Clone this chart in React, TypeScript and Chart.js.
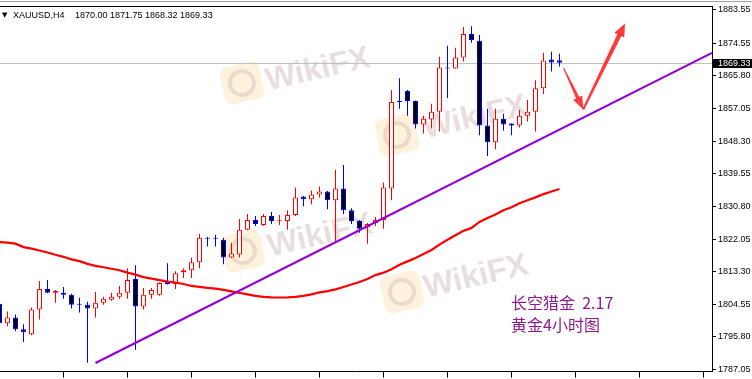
import { useEffect, useRef } from 'react';
import { Chart, registerables } from 'chart.js';

Chart.register(...registerables);

const symbolLabel = 'XAUUSD,H4';
const lastQuote = ['1870.00', '1871.75', '1868.32', '1869.33'];

const opens = [
  1804.73, 1799.45, 1801.03, 1797.87, 1796.55, 1803.14, 1808.69, 1807.63, 1807.63, 1807.10,
  1804.50, 1804.46, 1803.41, 1804.99, 1805.78, 1806.58, 1807.63, 1811.32, 1803.94, 1807.10,
  1807.10, 1810.53, 1810.00, 1813.17, 1813.70, 1815.81, 1822.18, 1822.18, 1821.88, 1817.13,
  1817.92, 1824.52, 1827.16, 1825.84, 1828.21, 1826.85, 1826.89, 1828.47, 1833.49, 1832.69,
  1834.02, 1834.81, 1832.43, 1835.60, 1829.79, 1826.89, 1825.31, 1826.36, 1827.16, 1835.60,
  1858.86, 1861.72, 1859.08, 1852.75, 1854.07, 1856.18, 1867.83, 1867.79, 1870.69, 1877.02,
  1875.18, 1852.48, 1848.00, 1854.33, 1853.01, 1852.48, 1855.12, 1856.18, 1862.51, 1870.16,
  1870.00,
];
const highs = [
  1806.31, 1802.62, 1801.83, 1799.19, 1803.67, 1810.80, 1811.06, 1808.42, 1809.21, 1807.37,
  1806.31, 1805.26, 1807.89, 1806.58, 1807.63, 1809.48, 1814.23, 1815.02, 1808.95, 1808.95,
  1810.40, 1815.55, 1813.44, 1814.23, 1817.13, 1823.46, 1822.67, 1823.20, 1822.41, 1821.09,
  1827.42, 1828.74, 1828.21, 1828.74, 1829.27, 1828.47, 1829.79, 1835.86, 1833.60, 1835.07,
  1836.12, 1834.90, 1840.61, 1841.93, 1830.32, 1827.16, 1826.36, 1827.95, 1837.18, 1861.98,
  1865.15, 1861.98, 1859.20, 1855.12, 1858.29, 1870.95, 1873.86, 1873.33, 1878.87, 1879.13,
  1876.76, 1856.97, 1856.97, 1855.65, 1853.10, 1856.71, 1859.34, 1864.62, 1872.01, 1872.27,
  1871.75,
];
const lows = [
  1798.92, 1798.66, 1797.34, 1794.44, 1796.28, 1800.51, 1807.50, 1804.99, 1806.05, 1803.41,
  1802.35, 1788.90, 1801.03, 1804.46, 1805.52, 1806.05, 1806.05, 1792.33, 1803.14, 1806.05,
  1806.84, 1809.90, 1808.69, 1811.59, 1811.59, 1814.23, 1820.03, 1820.03, 1815.28, 1817.00,
  1817.13, 1824.40, 1825.57, 1825.57, 1826.10, 1825.84, 1824.52, 1828.21, 1830.85, 1831.38,
  1833.22, 1830.06, 1821.35, 1828.74, 1826.10, 1823.73, 1820.82, 1825.57, 1824.78, 1832.43,
  1856.97, 1855.12, 1851.69, 1850.37, 1851.69, 1850.90, 1859.87, 1867.70, 1869.64, 1874.65,
  1849.85, 1844.31, 1846.15, 1851.17, 1849.85, 1851.96, 1853.54, 1850.90, 1860.93, 1867.00,
  1868.32,
];
const closes = [
  1799.45, 1801.03, 1797.87, 1797.08, 1803.14, 1808.69, 1807.63, 1808.16, 1807.10, 1804.46,
  1804.42, 1803.41, 1804.99, 1806.05, 1806.58, 1807.63, 1811.06, 1803.94, 1807.10, 1808.42,
  1810.27, 1810.00, 1812.91, 1813.70, 1815.81, 1822.41, 1822.10, 1822.10, 1817.13, 1818.18,
  1824.52, 1827.16, 1826.10, 1828.21, 1826.89, 1826.93, 1828.47, 1833.22, 1832.69, 1834.02,
  1834.81, 1832.43, 1835.60, 1829.79, 1826.89, 1824.78, 1826.10, 1827.16, 1835.86, 1858.82,
  1858.78, 1859.08, 1852.75, 1854.33, 1856.18, 1868.05, 1867.75, 1870.69, 1877.02, 1875.44,
  1852.48, 1848.00, 1854.33, 1852.75, 1852.48, 1855.12, 1856.18, 1862.51, 1869.90, 1869.37,
  1869.33,
];
const maValues = [
  1821.22, 1821.09, 1820.82, 1819.90, 1819.50, 1818.98, 1818.45, 1817.84, 1817.29, 1816.60,
  1816.13, 1815.41, 1814.86, 1814.49, 1814.09, 1813.70, 1813.04, 1812.51, 1811.85, 1811.46,
  1811.06, 1810.66, 1810.40, 1810.00, 1809.48, 1809.21, 1808.95, 1808.74, 1808.42, 1808.03,
  1807.63, 1807.23, 1806.84, 1806.57, 1806.44, 1806.39, 1806.44, 1806.57, 1806.84, 1807.23,
  1807.76, 1808.08, 1808.55, 1809.21, 1809.87, 1810.53, 1811.32, 1812.38, 1813.04, 1813.96,
  1815.15, 1816.07, 1817.00, 1818.05, 1819.11, 1820.56, 1821.88, 1823.07, 1824.25, 1825.04,
  1826.63, 1827.68, 1828.61, 1829.79, 1830.59, 1831.64, 1832.43, 1833.22, 1834.10, 1834.81,
  1835.47,
];

const yTickValues = [1883.55, 1874.55, 1865.8, 1857.05, 1848.3, 1839.55, 1830.8, 1822.05, 1813.3, 1804.55, 1795.8, 1787.05];
const yTickLabels = ['1883.55', '1874.55', '1865.80', '1857.05', '1848.30', '1839.55', '1830.80', '1822.05', '1813.30', '1804.55', '1795.80', '1787.05'];
const xTickValues = [8, 16, 24, 32, 40, 48, 56, 64, 72, 80, 88];

const trendLine = [
  { x: 12, y: 1788.82 },
  { x: 89.06, y: 1871.96 },
];
const arrowDown = [
  { x: 70.5, y: 1867.97 },
  { x: 72.97, y: 1856.79 },
];
const arrowUp = [
  { x: 72.97, y: 1856.79 },
  { x: 78.19, y: 1879.85 },
];
const noteLines = ['长空猎金  2.17', '黄金4小时图'];
const watermarkText = 'WikiFX';

const AXIS_FONT = '"Liberation Sans", Arial, sans-serif';

function drawArrow(ctx: CanvasRenderingContext2D, x1: number, y1: number, x2: number, y2: number, w0: number, w1: number, headLen: number, headW: number) {
  const dx = x2 - x1;
  const dy = y2 - y1;
  const len = Math.hypot(dx, dy);
  const ux = dx / len;
  const uy = dy / len;
  const nx = -uy;
  const ny = ux;
  const bx = x2 - ux * headLen;
  const by = y2 - uy * headLen;
  ctx.beginPath();
  ctx.moveTo(x1 + nx * w0 / 2, y1 + ny * w0 / 2);
  ctx.lineTo(bx + nx * w1 / 2, by + ny * w1 / 2);
  ctx.lineTo(bx + nx * headW / 2, by + ny * headW / 2);
  ctx.lineTo(x2, y2);
  ctx.lineTo(bx - nx * headW / 2, by - ny * headW / 2);
  ctx.lineTo(bx - nx * w1 / 2, by - ny * w1 / 2);
  ctx.lineTo(x1 - nx * w0 / 2, y1 - ny * w0 / 2);
  ctx.closePath();
  ctx.fill();
}

function drawWatermark(ctx: CanvasRenderingContext2D, lx: number, ly: number, tx: number, ty: number) {
  const ang = (-13 * Math.PI) / 180;
  ctx.save();
  ctx.translate(lx, ly);
  ctx.rotate(ang);
  ctx.beginPath();
  const w = 40, h = 38, r = 8;
  ctx.moveTo(-w / 2 + r, -h / 2);
  ctx.arcTo(w / 2, -h / 2, w / 2, h / 2, r);
  ctx.arcTo(w / 2, h / 2, -w / 2, h / 2, r);
  ctx.arcTo(-w / 2, h / 2, -w / 2, -h / 2, r);
  ctx.arcTo(-w / 2, -h / 2, w / 2, -h / 2, r);
  ctx.closePath();
  ctx.fillStyle = 'rgba(250,205,120,0.25)';
  ctx.fill();
  ctx.beginPath();
  ctx.arc(0, 0, 12, 0, Math.PI * 2);
  ctx.strokeStyle = 'rgba(190,160,160,0.3)';
  ctx.lineWidth = 4;
  ctx.stroke();
  ctx.restore();

  ctx.save();
  ctx.translate(tx, ty);
  ctx.rotate(ang);
  ctx.font = 'bold 32px "Liberation Sans", Arial, sans-serif';
  ctx.fillStyle = 'rgba(190,160,160,0.35)';
  ctx.textAlign = 'center';
  ctx.textBaseline = 'middle';
  ctx.fillText(watermarkText, 0, 0);
  ctx.restore();
}

export default function App() {
  const canvasRef = useRef<HTMLCanvasElement | null>(null);

  useEffect(() => {
    document.body.style.margin = '0';
    const el = canvasRef.current;
    if (!el) return;

    const isBull = closes.map((c, i) => c >= opens[i]);
    const lastClose = closes[closes.length - 1];

    const decor = {
      id: 'decor',
      beforeDatasetsDraw(chart: any) {
        const { ctx, chartArea, scales } = chart;
        ctx.save();
        drawWatermark(ctx, 242, 83, 318, 70);
        drawWatermark(ctx, 243, 251, 320, 236);
        drawWatermark(ctx, 397, 135, 475, 118);
        drawWatermark(ctx, 402, 292, 476, 277);
        // current price line
        const py = Math.round(scales.y.getPixelForValue(lastClose)) + 0.5;
        ctx.strokeStyle = '#c0c0c0';
        ctx.lineWidth = 1;
        ctx.beginPath();
        ctx.moveTo(chartArea.left, py);
        ctx.lineTo(chartArea.right, py);
        ctx.stroke();
        ctx.restore();
      },
      afterDatasetsDraw(chart: any) {
        const { ctx, scales } = chart;
        const xs = scales.x;
        const ys = scales.y;
        ctx.save();
        ctx.fillStyle = 'rgba(255,40,40,0.92)';
        drawArrow(
          ctx,
          xs.getPixelForValue(arrowDown[0].x), ys.getPixelForValue(arrowDown[0].y),
          xs.getPixelForValue(arrowDown[1].x), ys.getPixelForValue(arrowDown[1].y),
          1, 3.5, 13, 10,
        );
        drawArrow(
          ctx,
          xs.getPixelForValue(arrowUp[0].x), ys.getPixelForValue(arrowUp[0].y),
          xs.getPixelForValue(arrowUp[1].x), ys.getPixelForValue(arrowUp[1].y),
          2, 4.5, 13, 11,
        );
        ctx.fillStyle = '#8B1A8F';
        ctx.font = '16px "Noto Sans CJK SC", sans-serif';
        ctx.textAlign = 'left';
        ctx.textBaseline = 'middle';
        ctx.fillText(noteLines[0], 511, 302.5);
        ctx.fillText(noteLines[1], 511, 324.5);
        ctx.restore();
      },
      afterDraw(chart: any) {
        const { ctx, chartArea, scales, width } = chart;
        ctx.save();
        // frame lines at top
        ctx.fillStyle = '#a0a0a0';
        ctx.fillRect(0, 1, width, 1);
        ctx.fillStyle = '#000';
        ctx.fillRect(0, 6, chartArea.right + 1, 1);
        // header
        ctx.fillStyle = '#000';
        ctx.font = '7px "DejaVu Sans", sans-serif';
        ctx.textBaseline = 'middle';
        ctx.textAlign = 'left';
        ctx.fillText('▼', 2, 15.5);
        ctx.font = '9px ' + AXIS_FONT;
        ctx.fillText(symbolLabel, 13, 15.5);
        ctx.fillText(lastQuote.join(' '), 75, 15.5);
        // price label box
        const py = scales.y.getPixelForValue(lastClose);
        ctx.fillStyle = '#000';
        ctx.fillRect(chartArea.right + 1, Math.round(py) - 4, width - chartArea.right - 1, 9);
        ctx.fillStyle = '#fff';
        ctx.font = '9px ' + AXIS_FONT;
        ctx.fillText(lastClose.toFixed(2), chartArea.right + 6, Math.round(py) + 0.5);
        ctx.restore();
      },
    };

    const chart = new Chart(el, {
      type: 'bar',
      data: {
        datasets: [
          {
            type: 'line',
            label: 'trend',
            data: trendLine,
            borderColor: '#9400D3',
            borderWidth: 2.2,
            pointRadius: 0,
            tension: 0,
            order: 1,
          } as any,
          {
            type: 'line',
            label: 'MA',
            data: maValues.map((v, i) => ({ x: i, y: v })),
            borderColor: '#ff0000',
            borderWidth: 2.2,
            pointRadius: 0,
            tension: 0,
            order: 2,
          } as any,
          {
            type: 'bar',
            label: 'body',
            data: opens.map((o, i) => ({ x: i, y: [o, closes[i]] })),
            backgroundColor: isBull.map((b) => (b ? '#ffffff' : '#000000')),
            borderColor: isBull.map((b) => (b ? '#ff0000' : '#0000ff')),
            borderWidth: 1,
            borderSkipped: false,
            barThickness: 5,
            minBarLength: 1,
            grouped: false,
            inflateAmount: 0,
            order: 3,
          } as any,
          {
            type: 'bar',
            label: 'wick',
            data: lows.map((l, i) => ({ x: i, y: [l, highs[i]] })),
            backgroundColor: isBull.map((b) => (b ? '#ff0000' : '#0000ff')),
            borderWidth: 0,
            barThickness: 1,
            grouped: false,
            inflateAmount: 0,
            order: 4,
          } as any,
        ],
      },
      options: {
        responsive: false,
        animation: false,
        events: [],
        layout: { padding: { top: 7, left: 0, right: 0, bottom: 0 } },
        plugins: {
          legend: { display: false },
          tooltip: { enabled: false },
        },
        scales: {
          x: {
            type: 'linear',
            min: 0.0625,
            max: 89.0625,
            offset: false,
            grid: { drawOnChartArea: false, drawTicks: true, tickLength: 6, color: '#000', offset: false },
            border: { display: true, color: '#000', width: 1 },
            ticks: { display: false },
            afterBuildTicks: (scale: any) => {
              scale.ticks = xTickValues.map((v) => ({ value: v }));
            },
            afterFit: (scale: any) => {
              scale.height = 2;
            },
          },
          y: {
            type: 'linear',
            position: 'right',
            min: 1786.52,
            max: 1884.15,
            grid: { drawOnChartArea: false, drawTicks: true, tickLength: 4, color: '#000' },
            border: { display: true, color: '#000', width: 1 },
            ticks: {
              autoSkip: false,
              padding: 2,
              color: '#000',
              font: { family: AXIS_FONT, size: 9 },
              callback: (_v: any, i: number) => yTickLabels[i],
            },
            afterBuildTicks: (scale: any) => {
              scale.ticks = yTickValues.map((v) => ({ value: v }));
            },
            afterFit: (scale: any) => {
              scale.width = 40;
            },
          },
        },
      } as any,
      plugins: [decor],
    });

    return () => chart.destroy();
  }, []);

  return (
    <div style={{ width: 752, height: 379, background: '#fff' }}>
      <canvas ref={canvasRef} width={752} height={379} style={{ display: 'block', width: 752, height: 379 }} />
    </div>
  );
}
